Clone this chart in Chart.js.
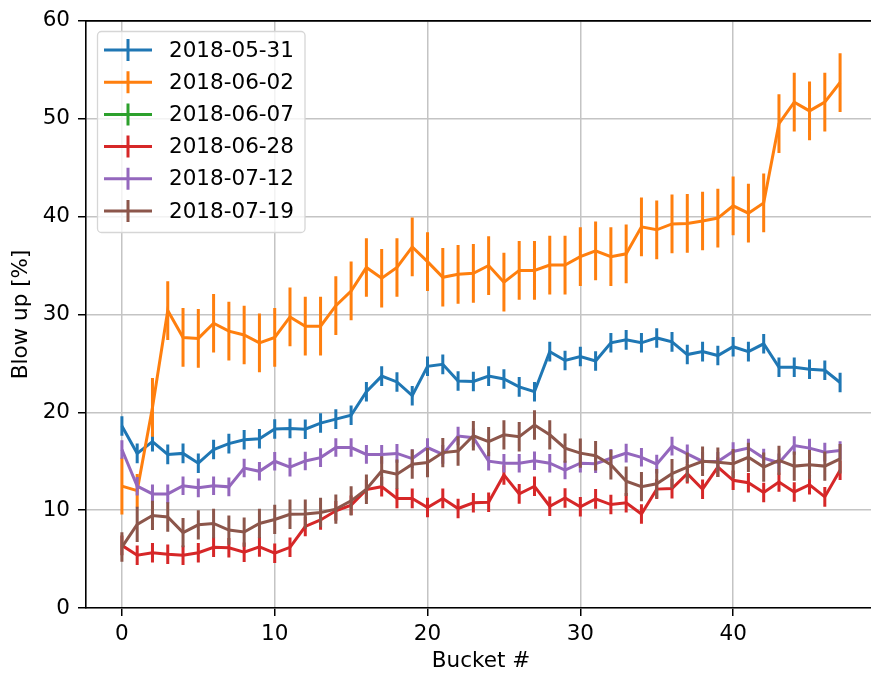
<!DOCTYPE html>
<html>
<head>
<meta charset="utf-8">
<script src="https://cdn.jsdelivr.net/npm/chart.js@4/dist/chart.umd.min.js"></script>
<style>
  html, body { margin: 0; padding: 0; background: #fff; overflow: hidden; }
  #wrap { width: 878px; height: 674px; }
</style>
</head>
<body>
<div id="wrap"><canvas id="chart" width="878" height="674"></canvas></div>
<script>
// bucket index on the x axis
const buckets = [0, 1, 2, 3, 4, 5, 6, 7, 8, 9, 10, 11, 12, 13, 14, 15, 16, 17, 18, 19, 20, 21, 22, 23,
  24, 25, 26, 27, 28, 29, 30, 31, 32, 33, 34, 35, 36, 37, 38, 39, 40, 41, 42, 43, 44, 45, 46, 47];

const seriesNames = ['2018-05-31', '2018-06-02', '2018-06-07', '2018-06-28', '2018-07-12', '2018-07-19'];
const seriesColors = ['#1f77b4', '#ff7f0e', '#2ca02c', '#d62728', '#9467bd', '#8c564b'];

// blow up [%] per bucket
const v0531 = [18.6, 15.8, 17.0, 15.7, 15.8, 14.8, 16.2, 16.8, 17.2, 17.3, 18.3, 18.35, 18.27, 18.9, 19.3, 19.7,
  22.1, 23.7, 23.1, 21.7, 24.7, 24.9, 23.2, 23.15, 23.7, 23.4, 22.6, 22.1, 26.2, 25.3, 25.7, 25.25,
  27.1, 27.4, 27.1, 27.6, 27.2, 25.9, 26.2, 25.8, 26.7, 26.2, 27.0, 24.6, 24.6, 24.4, 24.3, 23.05];
const v0602 = [12.45, 12.0, 20.5, 30.4, 27.65, 27.55, 29.1, 28.3, 27.9, 27.1, 27.65, 29.75, 28.8, 28.8, 30.9, 32.4,
  34.8, 33.7, 34.8, 36.9, 35.4, 33.8, 34.1, 34.2, 35.0, 33.3, 34.5, 34.5, 35.05, 35.05, 35.9, 36.5,
  35.9, 36.2, 38.95, 38.65, 39.25, 39.3, 39.55, 39.85, 41.1, 40.35, 41.4, 49.5, 51.7, 50.8, 51.7, 53.7];
const v0607 = [];
const v0628 = [6.4, 5.4, 5.65, 5.5, 5.4, 5.65, 6.2, 6.15, 5.7, 6.25, 5.6, 6.2, 8.33, 9.0, 9.93, 10.5,
  12.1, 12.4, 11.2, 11.2, 10.27, 11.2, 10.17, 10.75, 10.8, 13.6, 11.66, 12.44, 10.4, 11.25, 10.34, 11.15,
  10.57, 10.75, 9.6, 12.15, 12.2, 13.73, 12.14, 14.4, 13.05, 12.8, 11.8, 12.88, 11.86, 12.6, 11.36, 14.07];
const v0712 = [16.2, 12.45, 11.66, 11.66, 12.5, 12.28, 12.5, 12.38, 14.3, 13.97, 15.0, 14.4, 15.03, 15.37, 16.4, 16.4,
  15.7, 15.7, 15.8, 15.27, 16.4, 15.7, 17.58, 17.4, 15.0, 14.8, 14.8, 15.05, 14.8, 14.1, 14.8, 14.75,
  15.3, 15.83, 15.4, 14.7, 16.54, 15.76, 14.98, 14.98, 16.0, 16.34, 15.32, 14.85, 16.6, 16.34, 15.93, 16.1];
const v0719 = [6.23, 8.54, 9.46, 9.3, 7.7, 8.5, 8.64, 7.96, 7.76, 8.64, 9.05, 9.58, 9.6, 9.76, 10.1, 10.95,
  12.14, 14.0, 13.67, 14.7, 14.86, 15.88, 16.05, 17.6, 17.0, 17.7, 17.5, 18.7, 17.7, 16.34, 15.83, 15.56,
  14.64, 12.95, 12.4, 12.7, 13.73, 14.4, 15.0, 14.9, 14.75, 15.4, 14.4, 15.08, 14.5, 14.64, 14.5, 15.25];

// half length of each error bar
const e0531 = [1.0, 1.0, 1.0, 1.0, 1.0, 1.0, 1.0, 1.0, 1.0, 1.0, 1.0, 1.0, 1.0, 1.0, 1.0, 1.0,
  1.0, 1.0, 1.0, 1.0, 1.0, 1.0, 1.0, 1.0, 1.0, 1.0, 1.0, 1.0, 1.0, 1.0, 1.0, 1.0,
  1.0, 1.0, 1.0, 1.0, 1.0, 1.0, 1.0, 1.0, 1.0, 1.0, 1.0, 1.0, 1.0, 1.0, 1.0, 1.0];
const e0602 = [2.9, 1.7, 3.0, 3.0, 3.0, 3.0, 3.0, 3.0, 3.0, 3.0, 3.0, 3.0, 3.0, 3.0, 3.0, 3.0,
  3.0, 3.0, 3.0, 3.0, 3.0, 3.0, 3.0, 3.0, 3.0, 3.0, 3.0, 3.0, 3.0, 3.0, 3.0, 3.0,
  3.0, 3.0, 3.0, 3.0, 3.0, 3.0, 3.0, 3.0, 3.0, 3.0, 3.0, 3.0, 3.0, 3.0, 3.0, 3.0];
const e0607 = [];
const e0628 = [1.0, 1.0, 1.0, 1.0, 1.0, 1.0, 1.0, 1.0, 1.0, 1.0, 1.0, 1.0, 1.0, 1.0, 1.0, 1.0,
  1.0, 1.0, 1.0, 1.0, 1.0, 1.0, 1.0, 1.0, 1.0, 1.0, 1.0, 1.0, 1.0, 1.0, 1.0, 1.0,
  1.0, 1.0, 1.0, 1.0, 1.0, 1.0, 1.0, 1.0, 1.0, 1.0, 1.0, 1.0, 1.0, 1.0, 1.0, 1.0];
const e0712 = [0.95, 0.95, 0.95, 0.95, 0.95, 0.95, 0.95, 0.95, 0.95, 0.95, 0.95, 0.95, 0.95, 0.95, 0.95, 0.95,
  0.95, 0.95, 0.95, 0.95, 0.95, 0.95, 0.95, 0.95, 0.95, 0.95, 0.95, 0.95, 0.95, 0.95, 0.95, 0.95,
  0.95, 0.95, 0.95, 0.95, 0.95, 0.95, 0.95, 0.95, 0.95, 0.95, 0.95, 0.95, 0.95, 0.95, 0.95, 0.95];
const e0719 = [1.5, 1.8, 1.5, 1.5, 1.5, 1.5, 1.5, 1.5, 1.5, 1.5, 1.5, 1.5, 1.5, 1.5, 1.5, 1.5,
  1.5, 1.5, 1.5, 1.5, 1.5, 1.5, 1.5, 1.5, 1.5, 1.5, 1.5, 1.5, 1.5, 1.5, 1.5, 1.5,
  1.5, 1.5, 1.5, 1.5, 1.5, 1.5, 1.5, 1.5, 1.5, 1.5, 1.5, 1.5, 1.5, 1.5, 1.5, 1.5];

const seriesValues = [v0531, v0602, v0607, v0628, v0712, v0719];
const seriesErrors = [e0531, e0602, e0607, e0628, e0712, e0719];

const FONT = 'DejaVu Sans';
Chart.defaults.font.family = FONT;
Chart.defaults.font.size = 21.5;
Chart.defaults.color = '#000';

// vertical error bars, drawn right after each line
const errorBars = {
  id: 'errorBars',
  afterDatasetDraw(chart, args) {
    const errs = seriesErrors[args.index];
    const vals = seriesValues[args.index];
    if (!vals.length) return;
    const ctx = chart.ctx, a = chart.chartArea;
    const xs = chart.scales.x, ys = chart.scales.y;
    ctx.save();
    ctx.beginPath();
    ctx.rect(a.left, a.top, a.right - a.left, a.bottom - a.top);
    ctx.clip();
    ctx.strokeStyle = seriesColors[args.index];
    ctx.lineWidth = 3;
    ctx.beginPath();
    vals.forEach((v, i) => {
      const px = xs.getPixelForValue(buckets[i]);
      ctx.moveTo(px, ys.getPixelForValue(v - errs[i]));
      ctx.lineTo(px, ys.getPixelForValue(v + errs[i]));
    });
    ctx.stroke();
    ctx.restore();
  }
};

// top spine + matplotlib style legend box
const frameAndLegend = {
  id: 'frameAndLegend',
  afterDraw(chart) {
    const ctx = chart.ctx, a = chart.chartArea;
    ctx.save();
    ctx.strokeStyle = '#000';
    ctx.lineWidth = 1.6;
    ctx.beginPath();
    ctx.moveTo(a.left, a.top);
    ctx.lineTo(a.right, a.top);
    ctx.stroke();

    const x0 = 97.5, y0 = 31.5, w = 207.5, h = 201, r = 4;
    ctx.beginPath();
    ctx.moveTo(x0 + r, y0);
    ctx.arcTo(x0 + w, y0, x0 + w, y0 + h, r);
    ctx.arcTo(x0 + w, y0 + h, x0, y0 + h, r);
    ctx.arcTo(x0, y0 + h, x0, y0, r);
    ctx.arcTo(x0, y0, x0 + w, y0, r);
    ctx.closePath();
    ctx.fillStyle = 'rgba(255,255,255,0.8)';
    ctx.fill();
    ctx.strokeStyle = '#d6d6d6';
    ctx.lineWidth = 1.3;
    ctx.stroke();

    ctx.font = '21.5px ' + FONT;
    ctx.textBaseline = 'middle';
    ctx.textAlign = 'left';
    seriesNames.forEach((name, i) => {
      const cy = 50 + i * 32.2;
      ctx.strokeStyle = seriesColors[i];
      ctx.lineWidth = 3;
      ctx.beginPath();
      ctx.moveTo(104, cy);
      ctx.lineTo(152, cy);
      ctx.moveTo(128, cy - 11);
      ctx.lineTo(128, cy + 11);
      ctx.stroke();
      ctx.fillStyle = '#000';
      ctx.fillText(name, 169, cy + 1);
    });
    ctx.restore();
  }
};

const datasets = seriesNames.map((name, i) => ({
  label: name,
  data: seriesValues[i].map((v, j) => ({ x: buckets[j], y: v })),
  borderColor: seriesColors[i],
  backgroundColor: seriesColors[i],
  borderWidth: 3,
  pointRadius: 0,
  tension: 0,
  fill: false,
  order: 10 - i
}));

new Chart(document.getElementById('chart').getContext('2d'), {
  type: 'line',
  data: { datasets: datasets },
  options: {
    responsive: false,
    animation: false,
    layout: { padding: { top: 20, right: 2, left: 0, bottom: 0 } },
    plugins: {
      legend: { display: false },
      tooltip: { enabled: false }
    },
    scales: {
      x: {
        type: 'linear',
        min: -2.35,
        max: 49.35,
        afterFit: (scale) => { scale.height = 66; },
        ticks: { stepSize: 10, includeBounds: false, padding: 6, maxRotation: 0 },
        grid: { color: '#c4c4c4', lineWidth: 1.5, tickColor: '#000', tickLength: 8, tickWidth: 1.5 },
        border: { color: '#000', width: 1.6 },
        title: { display: true, text: 'Bucket #', padding: { top: 0, bottom: 0 } }
      },
      y: {
        min: 0,
        max: 60,
        afterFit: (scale) => { scale.width = 86; },
        ticks: { stepSize: 10, padding: 8 },
        grid: { color: '#c4c4c4', lineWidth: 1.5, tickColor: '#000', tickLength: 8, tickWidth: 1.5 },
        border: { color: '#000', width: 1.6 },
        title: { display: true, text: 'Blow up [%]', padding: { top: 9, bottom: 0 } }
      }
    }
  },
  plugins: [errorBars, frameAndLegend]
});
</script>
</body>
</html>
